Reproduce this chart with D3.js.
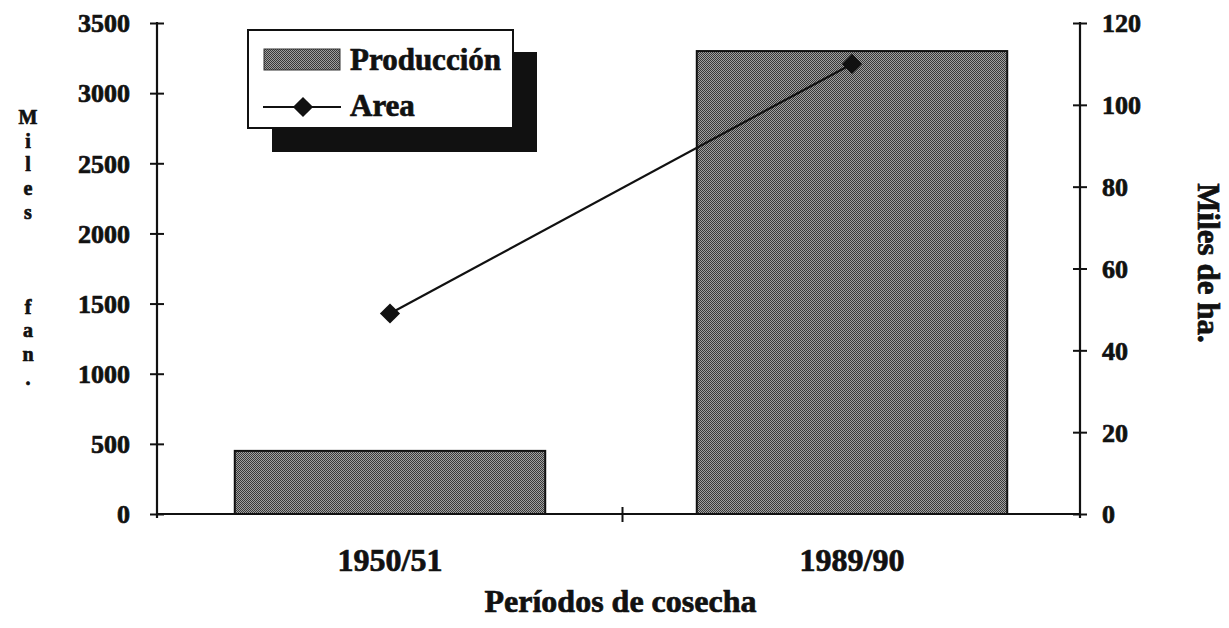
<!DOCTYPE html>
<html><head><meta charset="utf-8">
<script src="https://cdn.jsdelivr.net/npm/d3@7"></script>
<style>
html,body{margin:0;padding:0;background:#fff;}
text{font-family:"Liberation Serif","Times New Roman",serif;font-weight:bold;fill:#111;stroke:#111;stroke-width:0.7px;}
</style></head>
<body><svg id="c" width="1229" height="628"></svg>
<script>
const categories = ["1950/51", "1989/90"];
const produccion = [450, 3300];
const area = [49, 110];
const leftTicks = [0, 500, 1000, 1500, 2000, 2500, 3000, 3500];
const rightTicks = [0, 20, 40, 60, 80, 100, 120];
const leftTitle = ["M","i","l","e","s","","","","f","a","n","."];
const rightTitle = "Miles de ha.";
const xTitle = "Períodos de cosecha";
const legendLabels = ["Producción", "Area"];

const svg = d3.select("#c");
const X0 = 157, X1 = 1080, Y0 = 514, Y1 = 23;

const defs = svg.append("defs");
const pat = defs.append("pattern").attr("id","dots").attr("patternUnits","userSpaceOnUse")
  .attr("width",2).attr("height",2);
pat.append("rect").attr("width",2).attr("height",2).attr("fill","#a0a0a0");
pat.append("rect").attr("width",1).attr("height",1).attr("fill","#383838");
pat.append("rect").attr("x",1).attr("y",1).attr("width",1).attr("height",1).attr("fill","#383838");

const x = d3.scaleBand().domain(categories).range([X0+2, X1+3]).padding(0);
const yL = d3.scaleLinear().domain([0,3500]).range([Y0,Y1]);
const yR = d3.scaleLinear().domain([0,120]).range([Y0,Y1]);
const barW = x.bandwidth()*0.672;

// bars
svg.append("g").selectAll("rect").data(categories).join("rect")
  .attr("x", d => x(d) + x.bandwidth()/2 - barW/2)
  .attr("y", (d,i) => yL(produccion[i]))
  .attr("width", barW)
  .attr("height", (d,i) => Y0 - yL(produccion[i]))
  .attr("fill","url(#dots)").attr("stroke","#111").attr("stroke-width",2);

// axes
const fmt = d3.format("d");
const axL = d3.axisLeft(yL).tickValues(leftTicks).tickFormat(fmt).tickSize(7);
const gL = svg.append("g").attr("transform",`translate(${X0},0)`).call(axL);
const axR = d3.axisRight(yR).tickValues(rightTicks).tickFormat(fmt).tickSize(7);
const gR = svg.append("g").attr("transform",`translate(${X1},0)`).call(axR);
[gL,gR].forEach(g=>{
  g.select(".domain").attr("stroke","#111").attr("stroke-width",2.2).attr("d", `M0,${Y0+4}V${Y1-1}`);
  g.selectAll(".tick line").attr("stroke","#111").attr("stroke-width",2).attr("x1",-7).attr("x2",7);
  g.selectAll(".tick text").style("font-size","26px").style("font-family","Liberation Serif").style("font-weight","bold").attr("fill","#111");
});
gL.selectAll(".tick text").attr("x",-27).attr("dy","0.34em");
gR.selectAll(".tick text").attr("x",22).attr("dy","0.34em");

// x axis
const gX = svg.append("g").attr("transform",`translate(0,${Y0})`)
  .call(d3.axisBottom(x).tickSize(0).tickPadding(0));
gX.select(".domain").remove();
gX.append("line").attr("x1",X0).attr("x2",X1).attr("stroke","#111").attr("stroke-width",2.2);
gX.append("line").attr("x1",(X0+X1)/2+4).attr("x2",(X0+X1)/2+4).attr("y1",-7).attr("y2",8).attr("stroke","#111").attr("stroke-width",2);
gX.selectAll(".tick text").attr("y",57).attr("dy",0).style("font-size","32px")
  .style("font-family","Liberation Serif").style("font-weight","bold").attr("fill","#111");

// line
const pts = categories.map((c,i)=>[x(c)+x.bandwidth()/2, yR(area[i])]);
svg.append("path").attr("d", d3.line()(pts)).attr("fill","none").attr("stroke","#111").attr("stroke-width",2.2);
const diamond = d3.symbol().type(d3.symbolDiamond2).size(260);
svg.append("g").selectAll("path").data(pts).join("path")
  .attr("transform", d=>`translate(${d[0]},${d[1]})`)
  .attr("d", diamond).attr("fill","#111");

// titles
svg.append("text").attr("x", (X0+X1)/2+2).attr("y", 612).attr("text-anchor","middle")
  .style("font-size","32px").text(xTitle);
svg.append("g").selectAll("text").data(leftTitle.map((d,i)=>({d,i})).filter(o=>o.d!=="")).join("text")
  .attr("text-anchor","middle").style("font-size","20px")
  .attr("x", 28).attr("y",o=>124 + o.i*23.7).text(o=>o.d);
svg.append("text").attr("transform","translate(1198,263) rotate(90)").attr("text-anchor","middle")
  .style("font-size","31px").text(rightTitle);

// legend
const lg = svg.append("g");
lg.append("rect").attr("x",272).attr("y",52).attr("width",265).attr("height",100).attr("fill","#111");
lg.append("rect").attr("x",248).attr("y",30).attr("width",265).attr("height",98).attr("fill","#fff").attr("stroke","#111").attr("stroke-width",2);
lg.append("rect").attr("x",264).attr("y",49).attr("width",76).attr("height",21).attr("fill","url(#dots)").attr("stroke","#333").attr("stroke-width",1);
lg.append("line").attr("x1",263).attr("x2",341).attr("y1",107).attr("y2",107).attr("stroke","#111").attr("stroke-width",2.2);
lg.append("path").attr("transform","translate(303,107)").attr("d",diamond).attr("fill","#111");
lg.selectAll("text.l").data(legendLabels).join("text").attr("class","l")
  .attr("x",350).attr("y",(d,i)=>[70,116][i]).style("font-size","31px").text(d=>d);
</script></body></html>
